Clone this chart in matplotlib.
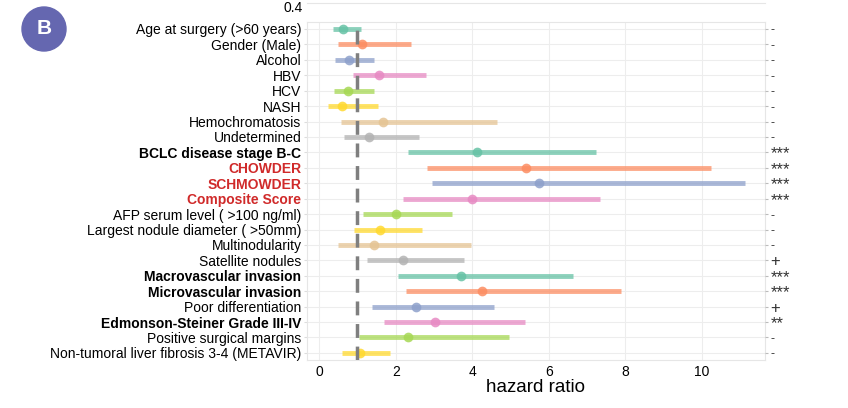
import matplotlib.pyplot as plt
from matplotlib.patches import Ellipse
from matplotlib.lines import Line2D

plt.rcParams["font.family"] = ["Liberation Sans", "DejaVu Sans"]

labels = [
    "Age at surgery (>60 years)", "Gender (Male)", "Alcohol", "HBV", "HCV", "NASH",
    "Hemochromatosis", "Undetermined", "BCLC disease stage B-C", "CHOWDER",
    "SCHMOWDER", "Composite Score", "AFP serum level ( >100 ng/ml)",
    "Largest nodule diameter ( >50mm)", "Multinodularity", "Satellite nodules",
    "Macrovascular invasion", "Microvascular invasion", "Poor differentiation",
    "Edmonson-Steiner Grade III-IV", "Positive surgical margins",
    "Non-tumoral liver fibrosis 3-4 (METAVIR)",
]
hr = [0.62, 1.12, 0.78, 1.57, 0.76, 0.60, 1.67, 1.31, 4.12, 5.40, 5.75, 4.00,
      2.01, 1.58, 1.44, 2.20, 3.71, 4.26, 2.54, 3.03, 2.31, 1.07]
lower = [0.35, 0.50, 0.41, 0.88, 0.38, 0.23, 0.57, 0.64, 2.31, 2.83, 2.96, 2.18,
         1.15, 0.91, 0.50, 1.26, 2.07, 2.27, 1.39, 1.69, 1.05, 0.60]
upper = [1.08, 2.40, 1.43, 2.79, 1.43, 1.54, 4.64, 2.61, 7.23, 10.23, 11.12, 7.35,
         3.47, 2.69, 3.98, 3.79, 6.63, 7.89, 4.57, 5.38, 4.95, 1.84]
signif = ["-", "-", "-", "-", "-", "-", "-", "-", "***", "***", "***", "***",
          "-", "-", "-", "+", "***", "***", "+", "**", "-", "-"]
bold_rows = ["BCLC disease stage B-C", "CHOWDER", "SCHMOWDER", "Composite Score",
             "Macrovascular invasion", "Microvascular invasion",
             "Edmonson-Steiner Grade III-IV"]
red_rows = ["CHOWDER", "SCHMOWDER", "Composite Score"]

set2 = ["#66c2a5", "#fc8d62", "#8da0cb", "#e78ac3",
        "#a6d854", "#ffd92f", "#e5c494", "#b3b3b3"]

fig = plt.figure(figsize=(8.48, 4.08), dpi=100)
ax = fig.add_axes([0.362, 0.118, 0.540, 0.828])

for i in range(len(labels)):
    c = set2[i % len(set2)]
    ax.plot([lower[i], upper[i]], [i, i], color=c, lw=3.5, alpha=0.75,
            solid_capstyle="butt", zorder=3)
    ax.plot(hr[i], i, "o", color=c, ms=7, alpha=0.85, mew=0, zorder=4)

ax.axvline(1, color="#7f7f7f", lw=2.5, ls=(0, (4, 2.5)), zorder=5)

ax.set_xlim(-0.32, 11.65)
ax.set_ylim(len(labels) - 0.55, -0.45)
ax.set_xticks([0, 2, 4, 6, 8, 10])
ax.set_yticks(range(len(labels)))
ax.set_yticklabels(labels)
for t in ax.get_yticklabels():
    name = t.get_text()
    if name in bold_rows:
        t.set_fontweight("bold")
    if name in red_rows:
        t.set_color("#d02a2a")
ax.tick_params(axis="y", labelsize=10, length=2, color="#dddddd", pad=2)
ax.tick_params(axis="x", labelsize=10, length=0, pad=4)
ax.set_xlabel("hazard ratio", fontsize=13.5, labelpad=0)
ax.grid(True, color="#ededed", lw=0.8)
ax.set_axisbelow(True)
for s in ax.spines.values():
    s.set_color("#e6e6e6")
    s.set_linewidth(0.8)

ax2 = ax.twinx()
ax2.set_ylim(ax.get_ylim())
ax2.set_yticks(range(len(labels)))
ax2.set_yticklabels(signif)
ax2.tick_params(axis="y", length=2, color="#bbbbbb", pad=2, labelcolor="#333333")
for t, s in zip(ax2.get_yticklabels(), signif):
    t.set_fontsize(9 if s == "-" else 12)
for s in ax2.spines.values():
    s.set_visible(False)

# remnant of the panel above
fig.text(0.357, 0.98, "0.4", ha="right", va="center", fontsize=10)
fig.add_artist(Line2D([0.362, 0.902], [0.992, 0.992], color="#e6e6e6", lw=0.8))

# panel badge
fig.add_artist(Ellipse((44 / 848, 1 - 29 / 408), 44 / 848, 44 / 408,
                       transform=fig.transFigure, color="#6567b0", zorder=10))
fig.text(44 / 848, 1 - 29 / 408, "B", color="white", fontsize=15,
         fontweight="bold", ha="center", va="center", zorder=11)

fig.savefig("out.png", dpi=100)
